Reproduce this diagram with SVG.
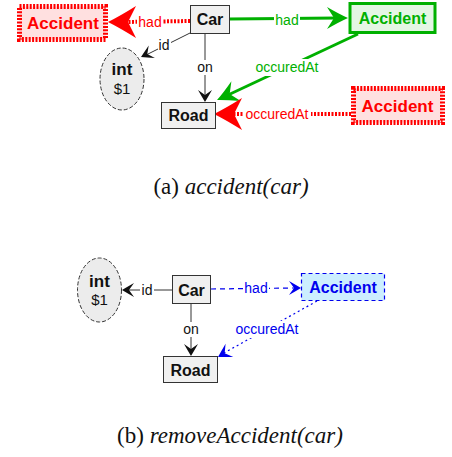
<svg xmlns="http://www.w3.org/2000/svg" width="452" height="457" viewBox="0 0 452 457">
<style>
.bg{fill:#fff}
.box{fill:#f0f0f0;stroke:#333;stroke-width:1}
.ell{fill:#ececec;stroke:#333;stroke-width:1;stroke-dasharray:4 2}
.n{font-family:"Liberation Sans",Arial,sans-serif;font-size:16px;font-weight:bold;text-anchor:middle;fill:#111}
.v{font-family:"Liberation Sans",Arial,sans-serif;font-size:15px;text-anchor:middle;fill:#111}
.lbl{font-family:"Liberation Sans",Arial,sans-serif;font-size:14px;text-anchor:middle}
.blk{stroke:#333;stroke-width:1;fill:none}
.red{stroke:#ff0000;stroke-width:4;stroke-dasharray:2 1.5;fill:none}
.redbox{fill:#ffe0e0;stroke:#ff0000;stroke-width:5;stroke-dasharray:2 1.4}
.redt{font-family:"Liberation Sans",Arial,sans-serif;font-size:17px;font-weight:bold;text-anchor:middle;fill:#ff0000}
.grn{stroke:#00b000;stroke-width:3;fill:none}
.blu{stroke:#0000ee;stroke-width:1.2;fill:none}
.cap{font-family:"Liberation Serif","Times New Roman",serif;font-size:23px;text-anchor:middle;fill:#111}
</style>
<defs>
<path id="ah" d="M0,0 Q-5,-3 -12,-7 L-7,0 L-12,7 Q-5,3 0,0 Z"/>
<path id="ahbig" d="M0,0 Q-12,-6 -28,-16 L-20,0 L-28,16 Q-12,6 0,0 Z"/>
<path id="ahmid" d="M0,0 Q-9,-4 -21,-11 L-14,0 L-21,11 Q-9,4 0,0 Z"/>
</defs>
<rect width="452" height="457" fill="#fff"/>

<!-- (a) -->
<g id="edges-a">
  <line class="red" x1="190" y1="21" x2="126" y2="22"/>
  <rect class="bg" x="137" y="13" width="26" height="17"/>
  <text class="lbl" x="150" y="27" fill="#ff0000">had</text>
  <use href="#ahbig" transform="translate(108,22) rotate(180)" fill="#ff0000"/>

  <line class="grn" x1="229" y1="19" x2="338" y2="18"/>
  <rect class="bg" x="274" y="11" width="26" height="17"/>
  <text class="lbl" x="287" y="25" fill="#00b000">had</text>
  <use href="#ahmid" transform="translate(348,18)" fill="#00b000"/>

  <line class="grn" x1="358" y1="34" x2="228" y2="95"/>
  <rect class="bg" x="253" y="59" width="68" height="17"/>
  <text class="lbl" x="287" y="72" fill="#00b000">occuredAt</text>
  <use href="#ahmid" transform="translate(217,100) rotate(155)" fill="#00b000"/>

  <line class="red" x1="351" y1="114" x2="230" y2="114"/>
  <rect class="bg" x="243" y="106" width="68" height="17"/>
  <text class="lbl" x="277" y="119" fill="#ff0000">occuredAt</text>
  <use href="#ahbig" transform="translate(214,114) rotate(180)" fill="#ff0000"/>

  <line class="blk" x1="190" y1="33" x2="146" y2="55"/>
  <rect class="bg" x="158" y="38" width="13" height="14"/>
  <text class="lbl" x="164" y="50" fill="#111">id</text>
  <use href="#ah" transform="translate(141,57) rotate(154)" fill="#111"/>

  <line class="blk" x1="205" y1="33" x2="205" y2="97"/>
  <rect class="bg" x="196" y="60" width="18" height="15"/>
  <text class="lbl" x="205" y="72" fill="#111">on</text>
  <use href="#ah" transform="translate(205,102) rotate(90)" fill="#111"/>
</g>

<g id="car-a">
  <rect class="box" x="190.5" y="5.5" width="39" height="28"/>
  <text class="n" x="210" y="25">Car</text>
</g>
<g id="road-a">
  <rect class="box" x="161.5" y="102.5" width="54" height="26"/>
  <text class="n" x="188.5" y="121">Road</text>
</g>
<g id="int-a">
  <ellipse class="ell" cx="122" cy="79" rx="22" ry="31"/>
  <text class="n" x="122" y="75" style="font-size:17px">int</text>
  <text class="v" x="122" y="94">$1</text>
</g>
<g id="accident-had-a">
  <rect x="350" y="3.5" width="85" height="29" fill="#e4f6e4" stroke="#00b000" stroke-width="3"/>
  <text class="n" x="392.5" y="24" style="fill:#00b000">Accident</text>
</g>
<g id="accident-removed-a">
  <rect class="redbox" x="19.5" y="6.5" width="86" height="33"/>
  <text class="redt" x="63" y="29">Accident</text>
</g>
<g id="accident-occ-a">
  <rect class="redbox" x="353.5" y="88.5" width="89" height="34"/>
  <text class="redt" x="397.5" y="112">Accident</text>
</g>

<text class="cap" x="231" y="194">(a) <tspan font-style="italic">accident(car)</tspan></text>

<!-- (b) -->
<g id="edges-b">
  <line class="blk" x1="172" y1="290" x2="126" y2="290"/>
  <rect class="bg" x="140" y="282" width="14" height="15"/>
  <text class="lbl" x="147" y="295" fill="#111">id</text>
  <use href="#ah" transform="translate(122,290) rotate(180)" fill="#111"/>

  <line class="blu" x1="211" y1="289" x2="294" y2="288" stroke-dasharray="5 4"/>
  <rect class="bg" x="243" y="280" width="26" height="16"/>
  <text class="lbl" x="256" y="293" fill="#0000ee">had</text>
  <use href="#ah" transform="translate(301,288)" fill="#0000ee"/>

  <line class="blu" x1="317" y1="301" x2="224" y2="353" stroke-width="1.8" stroke-dasharray="2 3"/>
  <rect class="bg" x="233" y="321" width="68" height="17"/>
  <text class="lbl" x="267" y="334" fill="#0000ee">occuredAt</text>
  <use href="#ah" transform="translate(218,357) rotate(150) scale(1.1)" fill="#0000ee"/>

  <line class="blk" x1="191" y1="304" x2="191" y2="351"/>
  <rect class="bg" x="182" y="322" width="18" height="15"/>
  <text class="lbl" x="191" y="334" fill="#111">on</text>
  <use href="#ah" transform="translate(191,356) rotate(90)" fill="#111"/>
</g>

<g id="car-b">
  <rect class="box" x="172.5" y="275.5" width="38" height="28"/>
  <text class="n" x="191.5" y="296">Car</text>
</g>
<g id="road-b">
  <rect class="box" x="163.5" y="356.5" width="54" height="26"/>
  <text class="n" x="190.5" y="376">Road</text>
</g>
<g id="int-b">
  <ellipse class="ell" cx="99.5" cy="290" rx="22" ry="32"/>
  <text class="n" x="99.5" y="287" style="font-size:17px">int</text>
  <text class="v" x="99.5" y="305">$1</text>
</g>
<g id="accident-b">
  <rect x="301.5" y="273.5" width="83" height="27" fill="#cceeff" stroke="#0000ee" stroke-width="1.2" stroke-dasharray="4 3"/>
  <text class="n" x="343" y="293" style="fill:#0000ee">Accident</text>
</g>

<text class="cap" x="230" y="443">(b) <tspan font-style="italic">removeAccident(car)</tspan></text>
</svg>
